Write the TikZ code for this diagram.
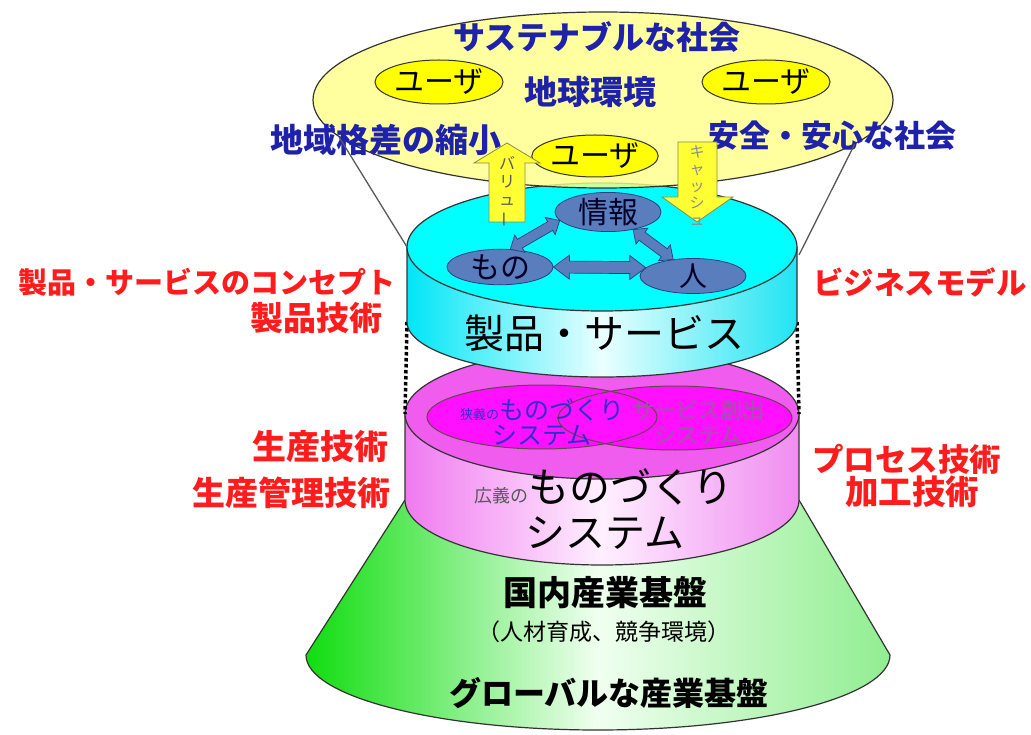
\documentclass[tikz,border=0pt]{standalone}
\usepackage{fontspec}
\usepackage{graphicx}
\setmainfont{Noto Sans CJK JP}
\usetikzlibrary{shapes.geometric,calc}
\newcommand{\fsz}[1]{\fontsize{#1}{#1}\selectfont}
\newcommand{\fsb}[2]{\fontsize{#1}{#2}\selectfont}
\definecolor{pale}{HTML}{FFFF88}
\definecolor{ubox}{HTML}{FFFF00}
\definecolor{jblue}{HTML}{1E22AA}
\definecolor{jred}{HTML}{FF1C1C}
\definecolor{steel}{HTML}{5A7DBE}
\definecolor{steeldk}{HTML}{2A3F7A}
\definecolor{cyTop}{HTML}{00FFFF}
\definecolor{cyA}{HTML}{00E6F6}
\definecolor{cyB}{HTML}{EAFFFF}
\definecolor{cyC}{HTML}{20E4F2}
\definecolor{mgTop}{HTML}{F05CEE}
\definecolor{mgIn}{HTML}{FF10FF}
\definecolor{mgA}{HTML}{F07AF0}
\definecolor{mgB}{HTML}{FFF0FF}
\definecolor{mgC}{HTML}{F08CF0}
\definecolor{gnA}{HTML}{10DD10}
\definecolor{gnB}{HTML}{F0FFF0}
\definecolor{gnC}{HTML}{90EE90}
\definecolor{outl}{HTML}{333333}
\definecolor{tblue}{HTML}{3030C8}
\definecolor{tpurp}{HTML}{9A5AA8}
\definecolor{arrfill}{HTML}{FFFF33}
\definecolor{arrline}{HTML}{8A8A50}
\tikzset{
  lbl/.style={inner sep=0pt, outer sep=0pt},
  redlbl/.style={lbl, text=jred, font=\bfseries\fsz{#1}},
  bluelbl/.style={lbl, text=jblue, font=\bfseries\fsz{#1}},
  blklbl/.style={lbl, text=black, font=\fsz{#1}},
  boldlbl/.style={lbl, text=black, font=\bfseries\fsz{#1}},
  outline/.style={draw=outl, line width=1.2pt},
  inline/.style={draw=black!70!magenta, line width=1pt},
  userell/.style={ellipse, draw=outl, line width=1pt, fill=ubox, inner sep=0pt,
    minimum width=128pt, minimum height=44pt, font=\fsz{30}},
  infoell/.style={ellipse, draw=steeldk, line width=0.8pt, fill=steel, inner sep=0pt,
    minimum width=106pt, minimum height=35pt, font=\fsz{30}, text=black!85!blue},
  blockarr/.style={draw=arrline, line width=0.8pt, fill=arrfill},
  dotline/.style={draw=black, line width=3.5pt, dash pattern=on 3.5pt off 2.5pt},
  gline/.style={draw=black!65, line width=1.3pt},
  dblS/.pic={
    \filldraw[draw=steeldk, fill=steel, line width=0.7pt]
      (0pt,0pt) -- (11pt,10pt) -- (11pt,5pt) -- (#1-11pt,5pt) -- (#1-11pt,10pt)
      -- (#1+0pt,0pt) -- (#1-11pt,-10pt) -- (#1-11pt,-5pt) -- (11pt,-5pt) -- (11pt,-10pt) -- cycle;
  },
  dblL/.pic={
    \filldraw[draw=steeldk, fill=steel, line width=0.7pt]
      (0pt,0pt) -- (16pt,12pt) -- (16pt,6pt) -- (#1-16pt,6pt) -- (#1-16pt,12pt)
      -- (#1+0pt,0pt) -- (#1-16pt,-12pt) -- (#1-16pt,-6pt) -- (16pt,-6pt) -- (16pt,-12pt) -- cycle;
  }
}
\begin{document}
\begin{tikzpicture}[x=1pt,y=-1pt]
\useasboundingbox (0,0) rectangle (1031,735);
\fill[white] (0,0) rectangle (1031,735);

\coordinate (cyL) at (407,247); \coordinate (cyR) at (797,247);
\coordinate (cyBL) at (407,322); \coordinate (cyBR) at (797,322);
\coordinate (mgL) at (405,414); \coordinate (mgR) at (799,414);
\coordinate (mgBL) at (405,500); \coordinate (mgBR) at (799,500);
\coordinate (gnBL) at (306,655); \coordinate (gnBR) at (890,655);

% green frustum
\shade[left color=gnA, right color=gnC, middle color=gnB]
  (mgBL) -- (gnBL) arc[start angle=180,end angle=360,x radius=292pt,y radius=75pt] -- (mgBR) -- cycle;
\draw[outline] (mgBL) -- (gnBL) arc[start angle=180,end angle=360,x radius=292pt,y radius=75pt] -- (mgBR);

% magenta cylinder
\shade[left color=mgA, right color=mgC, middle color=mgB]
  (mgL) -- (mgBL) arc[start angle=180,end angle=360,x radius=197pt,y radius=65pt] -- (mgR) -- cycle;
\draw[outline] (mgL) -- (mgBL) arc[start angle=180,end angle=360,x radius=197pt,y radius=65pt] -- (mgR);
\draw[outline, fill=mgTop] (602,414) ellipse[x radius=197pt,y radius=65pt];
\fill[mgIn] (542,417) ellipse[x radius=115pt,y radius=32pt];
\fill[mgIn] (675,418) ellipse[x radius=117pt,y radius=32pt];
\draw[inline] (542,417) ellipse[x radius=115pt,y radius=32pt];
\draw[inline] (675,418) ellipse[x radius=117pt,y radius=32pt];
\node[lbl, text=tblue, font=\fsb{25}{25}, align=center] (narrow) at (542,422) {{\fsz{13}狭義の}ものづくり\\システム};
\node[lbl, text=tpurp, font=\fsb{22}{25}, align=center] (servsys) at (698,422) {サービス創出\\システム};
\node[lbl, font=\fsz{41}] (broad) at (604,487) {{\color{black!65}\fsz{18}広義の}ものづくり};
\node[blklbl=40] (broadsys) at (605,533) {システム};

% dotted connectors
\draw[dotline] (cyBL) -- (mgL);
\draw[dotline] (cyBR) -- (mgR);

% cyan cylinder
\shade[left color=cyA, right color=cyC, middle color=cyB]
  (cyL) -- (cyBL) arc[start angle=180,end angle=360,x radius=195pt,y radius=55pt] -- (cyR) -- cycle;
\draw[outline] (cyL) -- (cyBL) arc[start angle=180,end angle=360,x radius=195pt,y radius=55pt] -- (cyR);
\draw[outline, fill=cyTop] (602,247) ellipse[x radius=195pt,y radius=64pt];

\node[infoell] (joho) at (608,212) {情報};
\node[infoell] (mono) at (500,267) {もの};
\node[infoell, font=\fsz{28}] (hito) at (693,276) {人};
\path let \p1=(mono.60), \p2=(joho.190), \n1={atan2(\y2-\y1,\x2-\x1)}, \n2={veclen(\x2-\x1,\y2-\y1)}
  in (\p1) pic[rotate=\n1] {dblS=\n2};
\path let \p1=(joho.-35), \p2=(hito.140), \n1={atan2(\y2-\y1,\x2-\x1)}, \n2={veclen(\x2-\x1,\y2-\y1)}
  in (\p1) pic[rotate=\n1] {dblS=\n2};
\path let \p1=(mono.east), \p2=(hito.170), \n1={atan2(\y2-\y1,\x2-\x1)}, \n2={veclen(\x2-\x1,\y2-\y1)}
  in (\p1) pic[rotate=\n1] {dblL=\n2};

\node[blklbl=40] (prod) at (604,333) {製品・サービス};

% top yellow ellipse
\node[ellipse, draw=outl, line width=1.2pt, fill=pale, fill opacity=0.8, minimum width=580pt, minimum height=176pt] (soc) at (603,100) {};
\node[userell] (u1) at (439,82) {ユーザ};
\node[userell] (u2) at (766,82) {ユーザ};
\node[userell, minimum width=124pt, minimum height=42pt] (u3) at (595,156) {ユーザ};
\node[bluelbl=32] (sust) at (597,37) {サステナブルな社会};
\node[bluelbl=33] (earth) at (590,92) {地球環境};
\node[bluelbl=33] (region) at (386,140) {地域格差の縮小};
\node[bluelbl=31] (safe) at (832,136) {安全・安心な社会};

% block arrows
\coordinate (vb) at (507,222);
\coordinate (cs) at (697,142);
\filldraw[blockarr] (vb) -- ++(-18,0) -- ++(0,-59) -- ++(-15,0) -- (507,143) -- (540,163) -- ++(-15,0) -- ++(0,59) -- cycle;
\filldraw[blockarr] (cs) ++(-19,0) -- ++(39,0) -- ++(0,55) -- ++(16,0) -- (697,222) -- (662,197) -- ++(16,0) -- cycle;
\node[lbl, text=black!65, font=\fsb{16}{18}, align=center] (value) at (507,192) {バ\\リ\\ュ\\\rotatebox[origin=c]{90}{ー}};
\node[lbl, text=black!45, font=\fsb{15}{17}, align=center] (cash) at (697,186) {キ\\ャ\\ッ\\シ\\ュ};

% tangent lines
\draw[gline] (soc.188) -- (cyL);
\draw[gline] (soc.-10) -- ($(cyR)+(2,8)$);

% red labels
\node[redlbl=29, anchor=east] (concept) at (395,282) {製品・サービスのコンセプト};
\node[redlbl=33, anchor=east] (prodtech) at (382,318) {製品技術};
\node[redlbl=34, anchor=east] (prodn) at (388,447) {生産技術};
\node[redlbl=33, anchor=east] (prodmgmt) at (390,493) {生産管理技術};
\node[redlbl=30.5, anchor=west] (biz) at (813,282) {ビジネスモデル};
\node[redlbl=31.5, anchor=west] (proc) at (812,459) {プロセス技術};
\node[redlbl=33.5, anchor=west] (mach) at (845,492) {加工技術};

% green texts
\node[boldlbl=34] (dom) at (605,593) {国内産業基盤};
\node[blklbl=23] (hr) at (604,632) {（人材育成、競争環境）};
\node[boldlbl=32] (glob) at (609,693) {グローバルな産業基盤};
\end{tikzpicture}
\end{document}
